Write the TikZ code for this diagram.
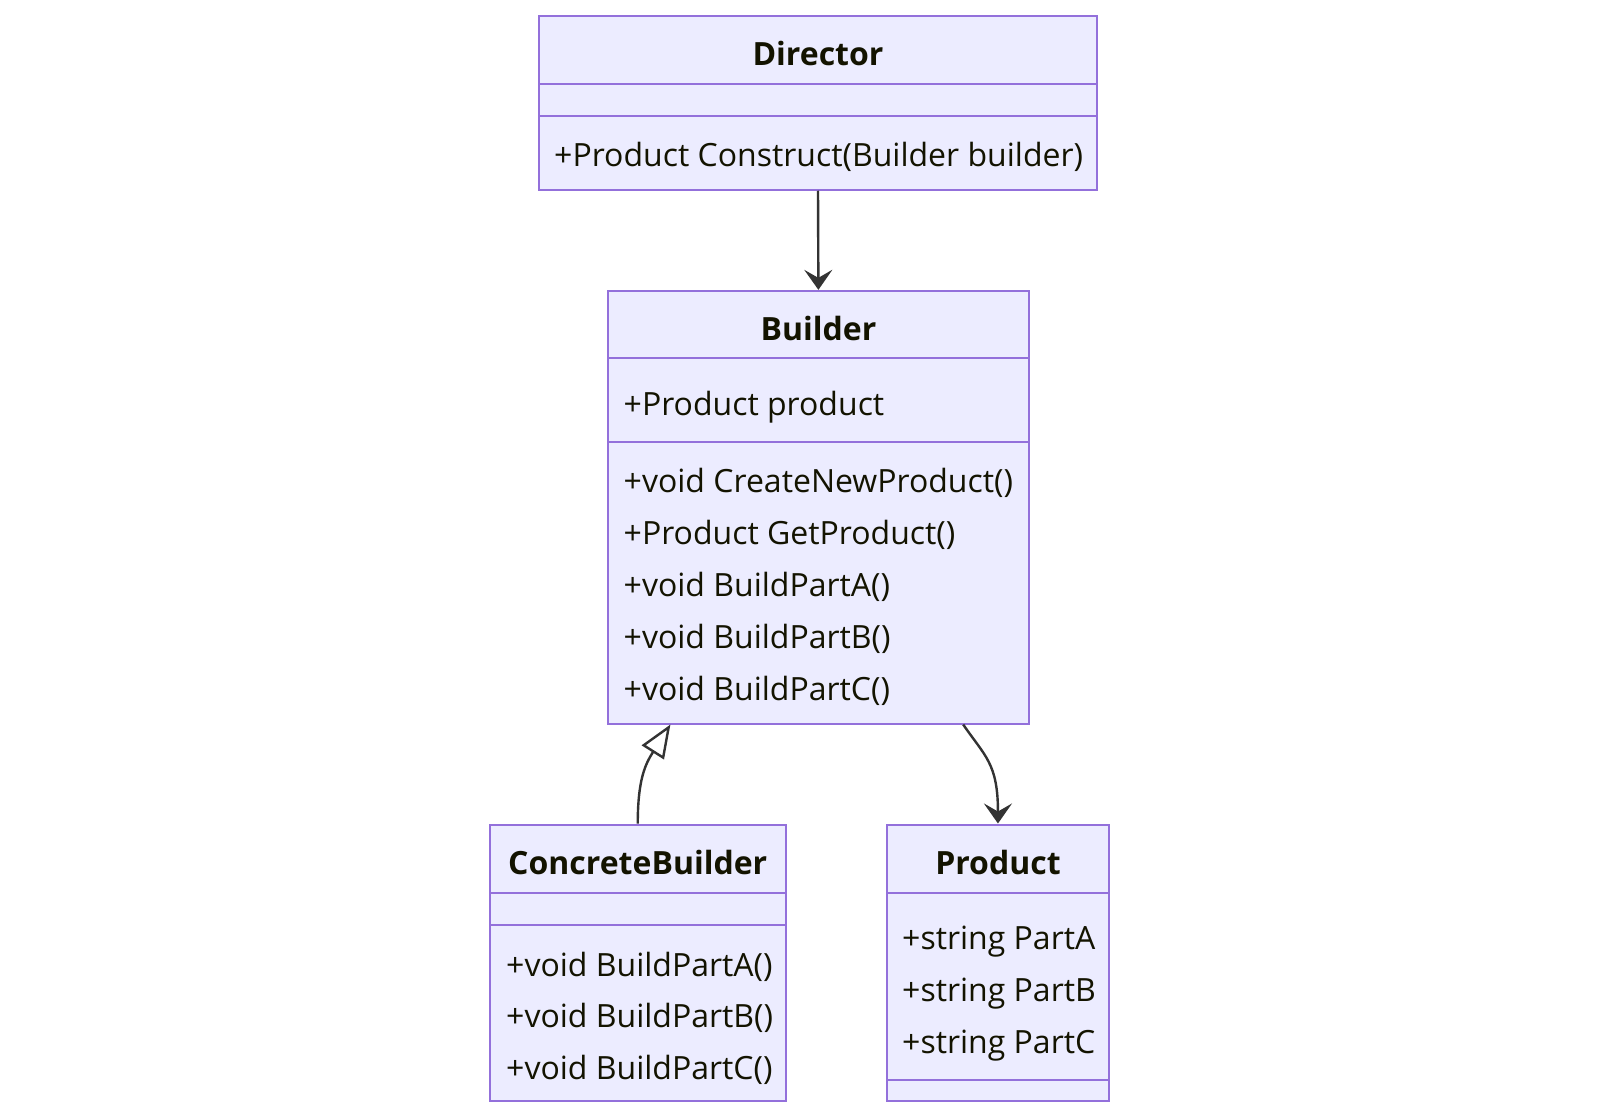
\documentclass[tikz,border=0pt]{standalone}
\usepackage{fontspec}
\setmainfont{Open Sans}
\usetikzlibrary{arrows.meta,calc}
\definecolor{boxfill}{HTML}{ECECFF}
\definecolor{boxline}{HTML}{9370DB}
\definecolor{conn}{HTML}{333333}
\definecolor{txt}{HTML}{131300}
\begin{document}
\begin{tikzpicture}[x=1pt,y=-1pt,
  classbox/.style={draw=boxline,fill=boxfill,line width=2pt,inner sep=0pt,rectangle},
  divider/.style={draw=boxline,line width=2pt},
  title/.style={font=\fontsize{32}{38}\selectfont\bfseries,text=txt,inner sep=0pt,anchor=center},
  member/.style={font=\fontsize{32}{38}\selectfont,text=txt,inner sep=0pt,anchor=west},
  assoc/.style={draw=conn,line width=2.4pt,-{Stealth[length=20pt,width=28pt,inset=8pt]}},
  inherit/.style={draw=conn,line width=2.4pt,-{Triangle[length=33pt,width=26pt,fill=white,line width=2.4pt]}}]
\useasboundingbox (0,0) rectangle (1600,1118);
% Director
\node[classbox,minimum width=558pt,minimum height=173.5pt] (director) at (818,103) {};
\draw[divider] (538.8,83.7) -- (1097,83.7);
\draw[divider] (538.8,116.3) -- (1097,116.3);
\node[title] (directorT) at (818,54) {Director};
\node[member] (directorM1) at (554,156.5) {+Product Construct(Builder builder)};
% Builder
\node[classbox,minimum width=420.4pt,minimum height=432.7pt] (builder) at (818.4,507.2) {};
\draw[divider] (608.2,358.2) -- (1028.6,358.2);
\draw[divider] (608.2,441.8) -- (1028.6,441.8);
\node[title] (builderT) at (818.4,328.6) {Builder};
\node[member] (builderA1) at (623.5,407.5) {+Product product};
\node[member] (builderM1) at (623.5,482.6) {+void CreateNewProduct()};
\node[member] (builderM2) at (623.5,534.6) {+Product GetProduct()};
\node[member] (builderM3) at (623.5,586.7) {+void BuildPartA()};
\node[member] (builderM4) at (623.5,638.7) {+void BuildPartB()};
\node[member] (builderM5) at (623.5,690.8) {+void BuildPartC()};
% ConcreteBuilder
\node[classbox,minimum width=295.9pt,minimum height=276.5pt] (concrete) at (637.75,962.75) {};
\draw[divider] (489.8,892.9) -- (785.7,892.9);
\draw[divider] (489.8,924.5) -- (785.7,924.5);
\node[title] (concreteT) at (637.75,862.5) {ConcreteBuilder};
\node[member] (concreteM1) at (506,966.5) {+void BuildPartA()};
\node[member] (concreteM2) at (506,1017.5) {+void BuildPartB()};
\node[member] (concreteM3) at (506,1069.5) {+void BuildPartC()};
% Product
\node[classbox,minimum width=222.5pt,minimum height=276.5pt] (product) at (997.95,962.75) {};
\draw[divider] (886.7,892.9) -- (1109.2,892.9);
\draw[divider] (886.7,1079.6) -- (1109.2,1079.6);
\node[title] (productT) at (997.95,862.5) {Product};
\node[member] (productA1) at (902,941.5) {+string PartA};
\node[member] (productA2) at (902,993.5) {+string PartB};
\node[member] (productA3) at (902,1045.5) {+string PartC};
% connectors
\draw[assoc] (director.south) -- (builder.north);
\draw[inherit] (concrete.north) .. controls ($(concrete.north)+(0,-45)$) and ($(concrete.north)+(8,-60)$) .. ($(builder.south west)+(63.2,0)$);
\draw[assoc] ($(builder.south west)+(356,0)$) .. controls ($(builder.south west)+(378,32)$) and ($(product.north)+(0,-60)$) .. (product.north);
\end{tikzpicture}
\end{document}
